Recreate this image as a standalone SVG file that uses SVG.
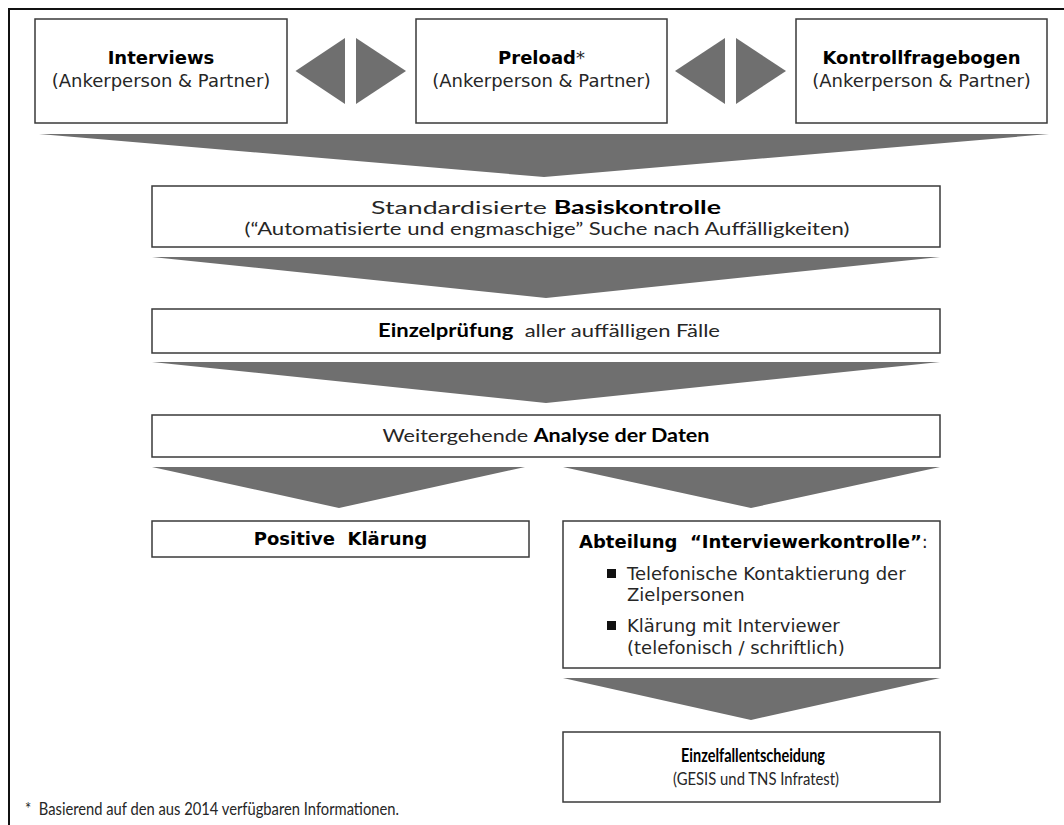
<svg xmlns="http://www.w3.org/2000/svg" width="1064" height="825" viewBox="0 0 1064 825">
<style>
.bx{fill:#ffffff;stroke:#3a3a3a;stroke-width:1.5}
.ar{fill:#6f6f6f}
.v{font-family:"DejaVu Sans",Verdana,sans-serif;font-size:18px;fill:#262626}
.c{font-family:Lato,"Open Sans",sans-serif;font-size:18px;fill:#262626}
.b{font-weight:bold;fill:#000}
.m{text-anchor:middle}
.bul{fill:#111}
</style>
<rect width="1064" height="825" fill="#ffffff"/>
<path d="M9 825 V9 H1064" fill="none" stroke="#111" stroke-width="2"/>

<g id="connectors">
<polygon class="ar" points="295.5,71 345,38 345,104"/>
<polygon class="ar" points="356,38 356,104 406,71"/>
<polygon class="ar" points="675,71 725,38 725,104"/>
<polygon class="ar" points="736,38 736,104 786,71"/>
<polygon class="ar" points="39,134 1049,134 544,177"/>
<polygon class="ar" points="152,257 940,257 546,298"/>
<polygon class="ar" points="152,362 940,362 546,403"/>
<polygon class="ar" points="152,467 525,467 339,508"/>
<polygon class="ar" points="563,467 940,467 751,508"/>
<polygon class="ar" points="563,678 940,678 751,720"/>
</g>

<g id="interviews">
<rect class="bx" x="35" y="19" width="252" height="104"/>
<text class="v m" x="161" y="64"><tspan class="b">Interviews</tspan></text>
<text class="v m" x="161" y="87">(Ankerperson &amp; Partner)</text>
</g>

<g id="preload">
<rect class="bx" x="416" y="19" width="251" height="104"/>
<text class="v m" x="541.5" y="64"><tspan class="b">Preload</tspan>*</text>
<text class="v m" x="541.5" y="87">(Ankerperson &amp; Partner)</text>
</g>

<g id="kontrollfragebogen">
<rect class="bx" x="796" y="19" width="251" height="104"/>
<text class="v m" x="921.5" y="64"><tspan class="b">Kontrollfragebogen</tspan></text>
<text class="v m" x="921.5" y="87">(Ankerperson &amp; Partner)</text>
</g>

<g id="basiskontrolle">
<rect class="bx" x="152" y="186" width="788" height="61"/>
<text class="c m" x="546" y="214" textLength="350" lengthAdjust="spacingAndGlyphs">Standardisierte <tspan class="b">Basiskontrolle</tspan></text>
<text class="c m" x="547" y="235" textLength="605" lengthAdjust="spacingAndGlyphs">(“Automatisierte und engmaschige” Suche nach Auffälligkeiten)</text>
</g>

<g id="einzelpruefung">
<rect class="bx" x="152" y="309" width="788" height="44"/>
<text class="c m" x="549" y="337" textLength="342" lengthAdjust="spacingAndGlyphs" xml:space="preserve"><tspan class="b">Einzelprüfung</tspan>  aller auffälligen Fälle</text>
</g>

<g id="analyse">
<rect class="bx" x="152" y="415" width="788" height="42"/>
<text class="c m" x="546" y="442" textLength="327" lengthAdjust="spacingAndGlyphs">Weitergehende <tspan class="b">Analyse der Daten</tspan></text>
</g>

<g id="positive-klaerung">
<rect class="bx" x="152" y="521" width="377" height="36"/>
<text class="v m" x="340.5" y="545" xml:space="preserve"><tspan class="b">Positive  Klärung</tspan></text>
</g>

<g id="interviewerkontrolle">
<rect class="bx" x="563" y="521" width="377" height="147"/>
<text class="v" x="579" y="548" xml:space="preserve"><tspan class="b">Abteilung  “Interviewerkontrolle”</tspan>:</text>
<rect class="bul" x="607" y="569" width="9" height="9"/>
<text class="v" x="627" y="580">Telefonische Kontaktierung der</text>
<text class="v" x="627" y="601">Zielpersonen</text>
<rect class="bul" x="607" y="621" width="9" height="9"/>
<text class="v" x="627" y="632">Klärung mit Interviewer</text>
<text class="v" x="627" y="654">(telefonisch / schriftlich)</text>
</g>

<g id="einzelfallentscheidung">
<rect class="bx" x="563" y="732" width="377" height="70"/>
<text class="c m" x="753" y="762" font-size="21" textLength="144" lengthAdjust="spacingAndGlyphs"><tspan class="b">Einzelfallentscheidung</tspan></text>
<text class="c m" x="756" y="785" font-size="20" textLength="166" lengthAdjust="spacingAndGlyphs">(GESIS und TNS Infratest)</text>
</g>

<g id="footnote">
<text class="c" x="25" y="815" font-size="17" textLength="374" lengthAdjust="spacingAndGlyphs" xml:space="preserve">*  Basierend auf den aus 2014 verfügbaren Informationen.</text>
</g>
</svg>
